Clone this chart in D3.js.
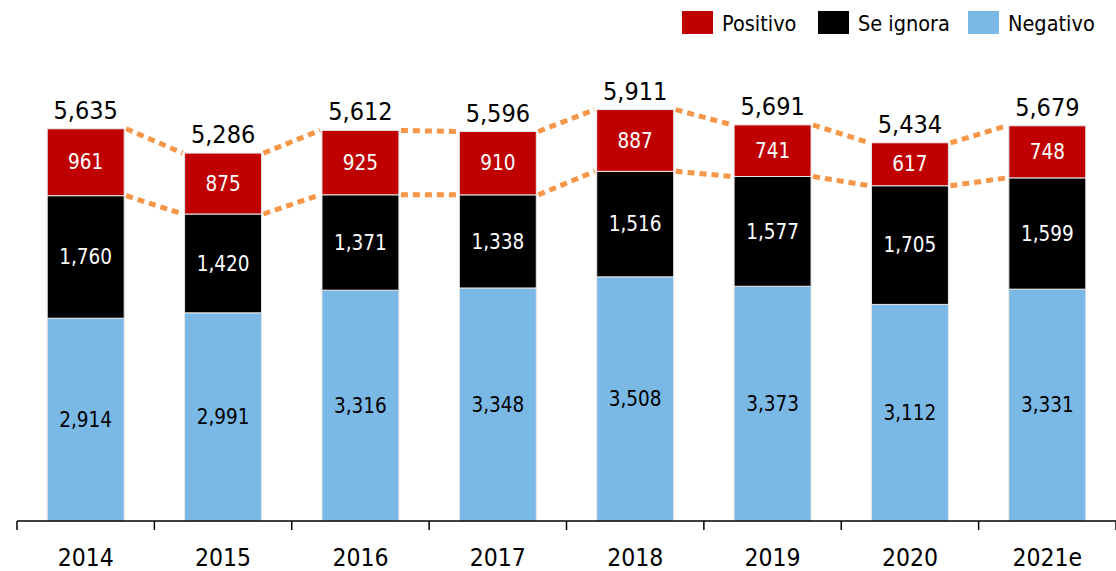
<!DOCTYPE html>
<html>
<head>
<meta charset="utf-8">
<script src="https://cdn.jsdelivr.net/npm/d3@7"></script>
<style>
  body { margin: 0; background: #fff; }
  svg text { font-family: "DejaVu Sans Condensed", "DejaVu Sans", sans-serif; }
</style>
</head>
<body>
<div id="chart"></div>
<script>
const years = ['2014', '2015', '2016', '2017', '2018', '2019', '2020', '2021e'];
const negativo = [2914, 2991, 3316, 3348, 3508, 3373, 3112, 3331];
const seIgnora = [1760, 1420, 1371, 1338, 1516, 1577, 1705, 1599];
const positivo = [961, 875, 925, 910, 887, 741, 617, 748];
const totals = [5635, 5286, 5612, 5596, 5911, 5691, 5434, 5679];

const seriesNames = ['Negativo', 'Se ignora', 'Positivo'];
const seriesColors = {'Negativo': '#7ab8e6', 'Se ignora': '#000000', 'Positivo': '#c00000'};
const labelColors = {'Negativo': '#000', 'Se ignora': '#fff', 'Positivo': '#fff'};

const width = 1116;
const height = 571;
const baseY = 521;

const rows = years.map((y, i) => ({
    year: y,
    'Negativo': negativo[i],
    'Se ignora': seIgnora[i],
    'Positivo': positivo[i],
    total: totals[i]
}));

const stacked = d3.stack().keys(seriesNames)(rows);

const x = d3.scaleBand()
    .domain(years)
    .range([17, 1116])
    .paddingInner(0.44)
    .paddingOuter(0.22);

const y = d3.scaleLinear()
    .domain([0, 6000])
    .range([baseY, baseY - 417.6]);

const fmt = d3.format(",");

const svg = d3.select("#chart").append("svg")
    .attr("width", width)
    .attr("height", height)
    .attr("viewBox", [0, 0, width, height]);

// bars
const layers = svg.append("g")
    .selectAll("g")
    .data(stacked)
    .join("g")
        .attr("fill", d => seriesColors[d.key]);

layers.selectAll("rect")
    .data(d => d)
    .join("rect")
        .attr("x", d => x(d.data.year))
        .attr("y", d => y(d[1]))
        .attr("width", x.bandwidth())
        .attr("height", d => y(d[0]) - y(d[1]))
        .attr("stroke", "#e6e6e6")
        .attr("stroke-width", 1);

// dotted connectors between bars (top of black and top of red)
[stacked[1], stacked[2]].forEach(layer => {
    for (let i = 0; i < years.length - 1; i++) {
        const a = layer[i], b = layer[i + 1];
        svg.append("line")
            .attr("x1", x(years[i]) + x.bandwidth() + 2)
            .attr("y1", y(a[1]))
            .attr("x2", x(years[i + 1]) - 2)
            .attr("y2", y(b[1]))
            .attr("stroke", "#f79646")
            .attr("stroke-width", 5)
            .attr("stroke-dasharray", "7,5");
    }
});

// segment labels
layers.each(function(layer) {
    d3.select(this).selectAll("text")
        .data(layer)
        .join("text")
            .attr("x", d => x(d.data.year) + x.bandwidth() / 2)
            .attr("y", d => (y(d[0]) + y(d[1])) / 2)
            .attr("dy", "0.35em")
            .attr("text-anchor", "middle")
            .attr("font-size", 20.5)
            .attr("fill", labelColors[layer.key])
            .text(d => fmt(d[1] - d[0]));
});

// totals
svg.append("g")
    .selectAll("text")
    .data(rows)
    .join("text")
        .attr("x", d => x(d.year) + x.bandwidth() / 2)
        .attr("y", d => y(d.total) - 10)
        .attr("text-anchor", "middle")
        .attr("font-size", 25)
        .attr("fill", "#000")
        .text(d => fmt(d.total));

// axis
const axisG = svg.append("g");
axisG.append("line")
    .attr("x1", 17).attr("x2", 1116)
    .attr("y1", baseY).attr("y2", baseY)
    .attr("stroke", "#000").attr("stroke-width", 1.5);

const ticks = d3.range(years.length + 1).map(i => 17 + i * x.step() + (i === 0 ? 0 : 0));
axisG.selectAll(".tick")
    .data(ticks)
    .join("line")
        .attr("x1", d => d).attr("x2", d => d)
        .attr("y1", baseY).attr("y2", baseY + 9)
        .attr("stroke", "#000").attr("stroke-width", 1.5);

axisG.selectAll("text")
    .data(years)
    .join("text")
        .attr("x", d => x(d) + x.bandwidth() / 2)
        .attr("y", 566)
        .attr("text-anchor", "middle")
        .attr("font-size", 24.5)
        .attr("fill", "#000")
        .text(d => d);

// legend
const legendItems = [
    {name: 'Positivo', x: 682},
    {name: 'Se ignora', x: 818},
    {name: 'Negativo', x: 968}
];
const legend = svg.append("g")
    .selectAll("g")
    .data(legendItems)
    .join("g")
        .attr("transform", d => `translate(${d.x},11)`);
legend.append("rect")
    .attr("width", 31).attr("height", 23)
    .attr("fill", d => seriesColors[d.name]);
legend.append("text")
    .attr("x", 40).attr("y", 12)
    .attr("dy", "0.35em")
    .attr("font-size", 21.5)
    .attr("fill", "#000")
    .text(d => d.name);
</script>
</body>
</html>
